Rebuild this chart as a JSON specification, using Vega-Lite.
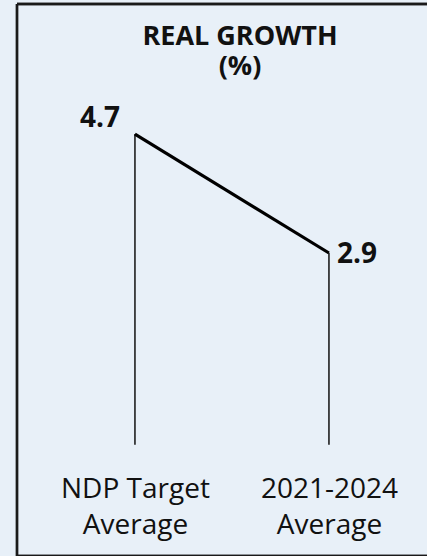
{
  "$schema": "https://vega.github.io/schema/vega-lite/v6.json",
  "width": 582,
  "height": 552,
  "autosize": {"type": "none"},
  "padding": {"left": 17, "top": 4, "right": 0, "bottom": 0},
  "background": "#e8f0f8",
  "config": {
    "view": {"stroke": null},
    "font": "Open Sans"
  },
  "title": {
    "text": ["REAL GROWTH", "(%)"],
    "orient": "top",
    "anchor": "start",
    "frame": "group",
    "baseline": "top",
    "offset": -78,
    "dx": 223,
    "align": "center",
    "fontSize": 27,
    "fontWeight": "bold",
    "font": "Open Sans",
    "color": "#111111",
    "lineHeight": 30
  },
  "data": {
    "values": [
      {"period": "NDP Target Average", "growth": 4.7},
      {"period": "2021-2024 Average", "growth": 2.9}
    ]
  },
  "resolve": {"scale": {"x": "independent"}},
  "layer": [
    {
      "encoding": {
        "x": {
          "field": "period",
          "type": "nominal",
          "sort": null,
          "scale": {"type": "point", "padding": 1, "align": 0.304},
          "axis": {
            "orient": "bottom",
            "title": null,
            "domain": false,
            "ticks": false,
            "labelAngle": 0,
            "labelPadding": 0,
            "offset": -59,
            "labelBaseline": "alphabetic",
            "labelFontSize": 28,
            "labelFont": "Open Sans",
            "labelColor": "#111111",
            "labelLineHeight": 36,
            "labelExpr": "[slice(datum.label, 0, lastindexof(datum.label, ' ')), slice(datum.label, lastindexof(datum.label, ' ') + 1)]"
          }
        },
        "y": {
          "field": "growth",
          "type": "quantitative",
          "scale": {"domain": [-1.684, 6.667], "nice": false, "zero": false},
          "axis": null
        }
      },
      "layer": [
        {
          "mark": {"type": "rule", "color": "#111111", "strokeWidth": 1.5},
          "encoding": {"y2": {"datum": 0}}
        },
        {
          "mark": {"type": "line", "color": "#000000", "strokeWidth": 3.2}
        },
        {
          "transform": [{"filter": "datum.period == 'NDP Target Average'"}],
          "mark": {"type": "text", "align": "right", "baseline": "alphabetic", "dx": -15, "dy": -7, "fontSize": 28, "fontWeight": "bold", "font": "Open Sans", "color": "#111111"},
          "encoding": {"text": {"field": "growth", "type": "quantitative", "format": ".1f"}}
        },
        {
          "transform": [{"filter": "datum.period == '2021-2024 Average'"}],
          "mark": {"type": "text", "align": "left", "baseline": "alphabetic", "dx": 8, "dy": 10, "fontSize": 28, "fontWeight": "bold", "font": "Open Sans", "color": "#111111"},
          "encoding": {"text": {"field": "growth", "type": "quantitative", "format": ".1f"}}
        }
      ]
    },
    {
      "mark": {"type": "rule", "color": "#1a1a1a", "strokeWidth": 2.4},
      "encoding": {
        "x": {"datum": 0, "type": "quantitative", "scale": {"domain": [0, 1], "nice": false, "zero": false}, "axis": null},
        "y": {"datum": -1.684, "type": "quantitative"},
        "y2": {"datum": 6.667}
      }
    },
    {
      "mark": {"type": "rule", "color": "#1a1a1a", "strokeWidth": 2.4},
      "encoding": {
        "x": {"datum": 0, "type": "quantitative", "scale": {"domain": [0, 1], "nice": false, "zero": false}, "axis": null},
        "x2": {"datum": 1},
        "y": {"datum": 6.667, "type": "quantitative"}
      }
    },
    {
      "mark": {"type": "rule", "color": "#1a1a1a", "strokeWidth": 2.4},
      "encoding": {
        "x": {"datum": 0, "type": "quantitative", "scale": {"domain": [0, 1], "nice": false, "zero": false}, "axis": null},
        "x2": {"datum": 1},
        "y": {"datum": -1.684, "type": "quantitative"}
      }
    }
  ]
}
